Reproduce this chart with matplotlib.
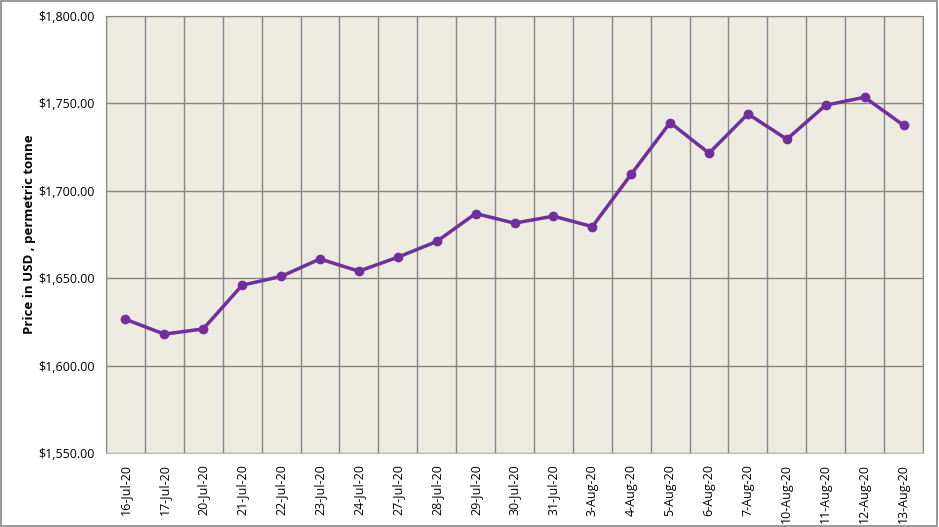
import matplotlib.pyplot as plt
import numpy as np

dates = ['16-Jul-20', '17-Jul-20', '20-Jul-20', '21-Jul-20', '22-Jul-20', '23-Jul-20',
         '24-Jul-20', '27-Jul-20', '28-Jul-20', '29-Jul-20', '30-Jul-20', '31-Jul-20',
         '3-Aug-20', '4-Aug-20', '5-Aug-20', '6-Aug-20', '7-Aug-20', '10-Aug-20',
         '11-Aug-20', '12-Aug-20', '13-Aug-20']
prices = [1626.5, 1618.0, 1621.0, 1646.0, 1651.0, 1661.0, 1654.0, 1662.0, 1671.0,
          1687.0, 1681.5, 1685.5, 1679.5, 1709.5, 1739.0, 1721.5, 1744.0, 1729.5,
          1749.0, 1753.5, 1737.5]

plt.rcParams['font.family'] = ['Open Sans', 'DejaVu Sans']

fig = plt.figure(figsize=(9.39, 5.27), dpi=100)
ax = fig.add_axes([106/939, 1 - 453/527, 817/939, 437/527])
ax.set_facecolor('#EDEAE0')

x = np.arange(len(dates))
ax.plot(x, prices, color='#6F2F9F', linewidth=2.5, marker='o', markersize=6, zorder=3)

ax.set_xlim(-0.5, len(dates) - 0.5)
ax.set_ylim(1550, 1800)
ax.set_yticks(np.arange(1550, 1801, 50))
ax.set_yticklabels(['${:,.2f}'.format(v) for v in np.arange(1550, 1801, 50)], fontsize=9)
ax.set_xticks(x)
ax.set_xticklabels(dates, rotation=90, fontsize=9)
ax.set_xticks(np.arange(len(dates) + 1) - 0.5, minor=True)
ax.tick_params(axis='both', which='both', length=0, pad=8)
ax.grid(True, axis='y', which='major', color='#858585', linewidth=1)
ax.grid(True, axis='x', which='minor', color='#858585', linewidth=1)
ax.set_axisbelow(True)
for s in ax.spines.values():
    s.set_color('#858585')
ax.spines['bottom'].set_color('#BBBBBB')

ax.set_ylabel('Price in USD , permetric tonne', fontsize=9.5, fontweight='bold', labelpad=2)

fig.patches.append(plt.Rectangle((0.001, 0.002), 0.997, 0.996, transform=fig.transFigure,
                                 fill=False, edgecolor='#888888', linewidth=1.2))

fig.savefig('out.png', dpi=100)
